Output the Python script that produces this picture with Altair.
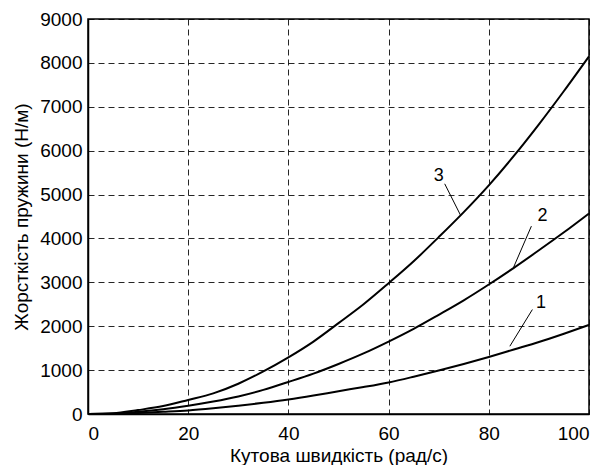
import altair as alt
import pandas as pd

w = [0, 5, 10, 15, 20, 25, 30, 35, 40, 45, 50, 55, 60, 65, 70, 75, 80, 85, 90, 95, 100]
k1 = [0, 3, 25, 50, 80, 130, 190, 255, 330, 420, 520, 615, 720, 850, 990, 1140, 1300, 1470, 1640, 1830, 2030]
k2 = [0, 5, 50, 110, 190, 285, 400, 550, 730, 920, 1140, 1380, 1650, 1940, 2260, 2590, 2950, 3330, 3730, 4140, 4570]
k3 = [0, 15, 90, 180, 320, 470, 690, 970, 1290, 1650, 2070, 2500, 2980, 3480, 4030, 4600, 5210, 5880, 6600, 7360, 8150]

lab_text = ["1", "2", "3"]
lab_x = [90.4, 90.7, 70.0]
lab_y = [2530, 4508, 5420]
lead_x1 = [88.7, 88.5, 71.2]
lead_y1 = [2380, 4280, 5245]
lead_x2 = [84.2, 84.9, 74.4]
lead_y2 = [1544, 3330, 4520]

FONT = "Liberation Sans"

df = pd.DataFrame({
    "w": w * 3,
    "k": k1 + k2 + k3,
    "s": ["1"] * len(w) + ["2"] * len(w) + ["3"] * len(w),
})
labels = pd.DataFrame({"t": lab_text, "x": lab_x, "y": lab_y})
leads = pd.DataFrame({"x1": lead_x1, "y1": lead_y1, "x2": lead_x2, "y2": lead_y2})

xscale = alt.Scale(domain=[0, 100], nice=False, zero=False)
yscale = alt.Scale(domain=[0, 9000], nice=False)

lines = alt.Chart(df).mark_line(color="black", strokeWidth=2, interpolate="monotone").encode(
    x=alt.X("w:Q", scale=xscale,
            axis=alt.Axis(values=[0, 20, 40, 60, 80, 100], title="Кутова швидкість (рад/с)",
                          format="d", grid=True, gridDash=[6, 4], gridColor="black", gridOpacity=0.85,
                          ticks=False, labelPadding=10, titlePadding=3)),
    y=alt.Y("k:Q", scale=yscale,
            axis=alt.Axis(values=list(range(0, 9001, 1000)), title="Жорсткість пружини (Н/м)",
                          format="d", grid=True, gridDash=[6, 4], gridColor="black", gridOpacity=0.85,
                          ticks=False, labelPadding=6, titlePadding=8)),
    detail="s:N",
)

rules = alt.Chart(leads).mark_rule(color="black", strokeWidth=1).encode(
    x="x1:Q", y="y1:Q", x2="x2:Q", y2="y2:Q"
)

texts = alt.Chart(labels).mark_text(
    font="'Liberation Sans Narrow', 'Liberation Sans', sans-serif", fontSize=18, color="black"
).encode(
    x="x:Q", y="y:Q", text="t:N"
)

chart = alt.layer(lines, rules, texts).properties(
    width=501, height=395,
    padding={"left": 4, "top": 2, "right": 0, "bottom": 0},
).configure_view(
    stroke="black", strokeWidth=1.5
).configure_axis(
    labelFont=FONT, titleFont=FONT, labelFontSize=19, titleFontSize=19,
    labelColor="black", titleColor="black", titleFontWeight="normal",
    domainColor="black", domainWidth=1.5,
)

chart.save("out.html", embed_options={"renderer": "svg", "actions": False})
